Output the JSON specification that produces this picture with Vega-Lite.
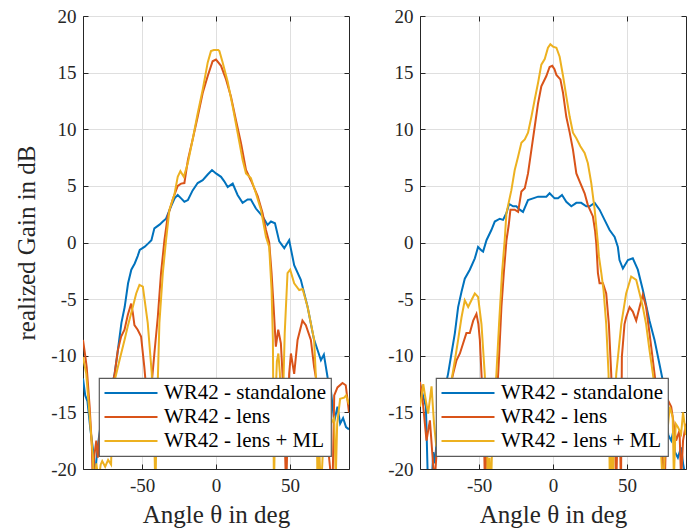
{
  "$schema": "https://vega.github.io/schema/vega-lite/v6.json",
  "background": "white",
  "padding": {"left": 14, "top": 6, "right": 5, "bottom": 5},
  "spacing": 34,
  "config": {
    "view": {"stroke": "#262626", "strokeWidth": 1},
    "font": "Liberation Serif",
    "axis": {
      "labelFont": "Liberation Serif", "labelFontSize": 19, "labelColor": "#262626",
      "titleFont": "Liberation Serif", "titleFontSize": 25, "titleFontWeight": "normal", "titleColor": "#262626",
      "gridColor": "#dfdfdf", "gridWidth": 1, "domainColor": "#262626", "tickColor": "#262626",
      "tickSize": -5, "labelPadding": 12, "labelExpr": "'' + datum.value"
    },
    "axisX": {"titlePadding": 7},
    "legend": {
      "orient": "none", "title": null, "fillColor": "white", "strokeColor": "#5a5a5a", "strokeWidth": 1.2,
      "padding": 4, "symbolType": "stroke", "symbolSize": 2809, "symbolStrokeWidth": 2.2,
      "labelFont": "Liberation Serif", "labelFontSize": 21, "labelColor": "#000000", "labelLimit": 400,
      "labelOffset": 5, "clipHeight": 22, "rowPadding": 2
    }
  },
  "datasets": {
    "left": [
      {"s":"WR42 - standalone","a":-90,"g":-12},{"s":"WR42 - standalone","a":-88.5,"g":-13.5},{"s":"WR42 - standalone","a":-87,"g":-14},{"s":"WR42 - standalone","a":-85,"g":-16.5},{"s":"WR42 - standalone","a":-83,"g":-18.5},{"s":"WR42 - standalone","a":-82,"g":-21},{"s":"WR42 - standalone","a":-81,"g":-19.3},{"s":"WR42 - standalone","a":-80,"g":-18},{"s":"WR42 - standalone","a":-78,"g":-16},{"s":"WR42 - standalone","a":-74,"g":-14.5},{"s":"WR42 - standalone","a":-71,"g":-13},{"s":"WR42 - standalone","a":-68.6,"g":-11.6},{"s":"WR42 - standalone","a":-66.4,"g":-9.5},{"s":"WR42 - standalone","a":-64,"g":-7.1},{"s":"WR42 - standalone","a":-61.8,"g":-5.7},{"s":"WR42 - standalone","a":-59.5,"g":-3.6},{"s":"WR42 - standalone","a":-57.3,"g":-2.4},{"s":"WR42 - standalone","a":-55,"g":-1.85},{"s":"WR42 - standalone","a":-53,"g":-1.2},{"s":"WR42 - standalone","a":-51.6,"g":-0.66},{"s":"WR42 - standalone","a":-48.2,"g":-0.37},{"s":"WR42 - standalone","a":-46,"g":-0.1},{"s":"WR42 - standalone","a":-43.7,"g":0.2},{"s":"WR42 - standalone","a":-41.7,"g":1.25},{"s":"WR42 - standalone","a":-38,"g":1.6},{"s":"WR42 - standalone","a":-36,"g":1.85},{"s":"WR42 - standalone","a":-33.8,"g":2.1},{"s":"WR42 - standalone","a":-30.4,"g":3.2},{"s":"WR42 - standalone","a":-28,"g":3.9},{"s":"WR42 - standalone","a":-25.9,"g":4.2},{"s":"WR42 - standalone","a":-23.6,"g":3.9},{"s":"WR42 - standalone","a":-21.4,"g":3.6},{"s":"WR42 - standalone","a":-19,"g":3.75},{"s":"WR42 - standalone","a":-15.8,"g":4.6},{"s":"WR42 - standalone","a":-12.4,"g":5.25},{"s":"WR42 - standalone","a":-9,"g":5.5},{"s":"WR42 - standalone","a":-5.6,"g":6.0},{"s":"WR42 - standalone","a":-2.7,"g":6.4},{"s":"WR42 - standalone","a":0,"g":6.1},{"s":"WR42 - standalone","a":3.4,"g":5.8},{"s":"WR42 - standalone","a":5.6,"g":5.4},{"s":"WR42 - standalone","a":7.9,"g":4.9},{"s":"WR42 - standalone","a":11.3,"g":5.2},{"s":"WR42 - standalone","a":14.6,"g":4.2},{"s":"WR42 - standalone","a":18,"g":3.5},{"s":"WR42 - standalone","a":21.4,"g":3.8},{"s":"WR42 - standalone","a":23.6,"g":3.8},{"s":"WR42 - standalone","a":27,"g":3.0},{"s":"WR42 - standalone","a":31.5,"g":2.3},{"s":"WR42 - standalone","a":34.9,"g":1.55},{"s":"WR42 - standalone","a":37.2,"g":1.85},{"s":"WR42 - standalone","a":39.9,"g":1.7},{"s":"WR42 - standalone","a":42.8,"g":0.1},{"s":"WR42 - standalone","a":46.2,"g":-0.5},{"s":"WR42 - standalone","a":49.5,"g":0.2},{"s":"WR42 - standalone","a":52.9,"g":-2.0},{"s":"WR42 - standalone","a":57.4,"g":-3.3},{"s":"WR42 - standalone","a":62,"g":-5.7},{"s":"WR42 - standalone","a":66.2,"g":-8.5},{"s":"WR42 - standalone","a":69,"g":-9.6},{"s":"WR42 - standalone","a":71,"g":-10.4},{"s":"WR42 - standalone","a":73,"g":-9.9},{"s":"WR42 - standalone","a":75.5,"g":-11.9},{"s":"WR42 - standalone","a":77.7,"g":-13},{"s":"WR42 - standalone","a":80,"g":-15.8},{"s":"WR42 - standalone","a":82.2,"g":-14.5},{"s":"WR42 - standalone","a":84,"g":-16},{"s":"WR42 - standalone","a":86,"g":-15.5},{"s":"WR42 - standalone","a":88,"g":-16.3},{"s":"WR42 - standalone","a":90,"g":-16.5},
      {"s":"WR42 - lens","a":-90,"g":-8.6},{"s":"WR42 - lens","a":-88.5,"g":-10},{"s":"WR42 - lens","a":-87.5,"g":-11},{"s":"WR42 - lens","a":-85.5,"g":-14.5},{"s":"WR42 - lens","a":-84,"g":-18},{"s":"WR42 - lens","a":-83.3,"g":-22},{"s":"WR42 - lens","a":-82.5,"g":-19},{"s":"WR42 - lens","a":-81,"g":-17.5},{"s":"WR42 - lens","a":-80,"g":-19},{"s":"WR42 - lens","a":-78,"g":-16},{"s":"WR42 - lens","a":-75,"g":-14},{"s":"WR42 - lens","a":-72,"g":-13.2},{"s":"WR42 - lens","a":-70,"g":-12.5},{"s":"WR42 - lens","a":-68.6,"g":-11.6},{"s":"WR42 - lens","a":-66.4,"g":-9.5},{"s":"WR42 - lens","a":-64.2,"g":-8.3},{"s":"WR42 - lens","a":-61.9,"g":-7.7},{"s":"WR42 - lens","a":-59.7,"g":-6.4},{"s":"WR42 - lens","a":-57.4,"g":-5.4},{"s":"WR42 - lens","a":-56.3,"g":-6.2},{"s":"WR42 - lens","a":-55.2,"g":-7.3},{"s":"WR42 - lens","a":-53,"g":-7.7},{"s":"WR42 - lens","a":-50.7,"g":-8.3},{"s":"WR42 - lens","a":-48.5,"g":-11},{"s":"WR42 - lens","a":-46.5,"g":-14},{"s":"WR42 - lens","a":-45,"g":-16},{"s":"WR42 - lens","a":-43.9,"g":-13},{"s":"WR42 - lens","a":-41.7,"g":-9.8},{"s":"WR42 - lens","a":-39.4,"g":-6.6},{"s":"WR42 - lens","a":-37.2,"g":-2.7},{"s":"WR42 - lens","a":-34.9,"g":0.2},{"s":"WR42 - lens","a":-32.7,"g":2.3},{"s":"WR42 - lens","a":-29.3,"g":3.8},{"s":"WR42 - lens","a":-25.9,"g":5.0},{"s":"WR42 - lens","a":-23.6,"g":5.2},{"s":"WR42 - lens","a":-21.4,"g":5.25},{"s":"WR42 - lens","a":-19,"g":7.3},{"s":"WR42 - lens","a":-15.8,"g":9.1},{"s":"WR42 - lens","a":-12.4,"g":11.1},{"s":"WR42 - lens","a":-9,"g":13.2},{"s":"WR42 - lens","a":-5.6,"g":14.7},{"s":"WR42 - lens","a":-2.3,"g":16.0},{"s":"WR42 - lens","a":0,"g":16.15},{"s":"WR42 - lens","a":3.4,"g":15.6},{"s":"WR42 - lens","a":6.8,"g":14.4},{"s":"WR42 - lens","a":10.1,"g":12.9},{"s":"WR42 - lens","a":13.5,"g":10.8},{"s":"WR42 - lens","a":16.9,"g":8.8},{"s":"WR42 - lens","a":20.3,"g":6.4},{"s":"WR42 - lens","a":23.6,"g":5.5},{"s":"WR42 - lens","a":28.2,"g":4.1},{"s":"WR42 - lens","a":31.5,"g":2.6},{"s":"WR42 - lens","a":33.8,"g":1.1},{"s":"WR42 - lens","a":36,"g":0.0},{"s":"WR42 - lens","a":37.6,"g":-2.7},{"s":"WR42 - lens","a":39,"g":-5.7},{"s":"WR42 - lens","a":40.5,"g":-9.2},{"s":"WR42 - lens","a":42.1,"g":-7.7},{"s":"WR42 - lens","a":43.9,"g":-8.9},{"s":"WR42 - lens","a":45,"g":-11.6},{"s":"WR42 - lens","a":46.2,"g":-16},{"s":"WR42 - lens","a":47.5,"g":-22},{"s":"WR42 - lens","a":48.6,"g":-16},{"s":"WR42 - lens","a":49.5,"g":-11.6},{"s":"WR42 - lens","a":50.7,"g":-9.8},{"s":"WR42 - lens","a":52.9,"g":-11.6},{"s":"WR42 - lens","a":55.2,"g":-8.6},{"s":"WR42 - lens","a":58.5,"g":-6.9},{"s":"WR42 - lens","a":60.8,"g":-7.3},{"s":"WR42 - lens","a":64.2,"g":-8.6},{"s":"WR42 - lens","a":66.4,"g":-11},{"s":"WR42 - lens","a":69,"g":-13},{"s":"WR42 - lens","a":72,"g":-15},{"s":"WR42 - lens","a":75,"g":-17},{"s":"WR42 - lens","a":78.8,"g":-22},{"s":"WR42 - lens","a":80,"g":-13.5},{"s":"WR42 - lens","a":82.2,"g":-12.8},{"s":"WR42 - lens","a":85.6,"g":-12.4},{"s":"WR42 - lens","a":87.8,"g":-12.6},{"s":"WR42 - lens","a":90,"g":-15},
      {"s":"WR42 - lens + ML","a":-90,"g":-10.1},{"s":"WR42 - lens + ML","a":-87.8,"g":-11.6},{"s":"WR42 - lens + ML","a":-85.5,"g":-15.3},{"s":"WR42 - lens + ML","a":-83.3,"g":-19},{"s":"WR42 - lens + ML","a":-82.5,"g":-22},{"s":"WR42 - lens + ML","a":-81,"g":-19.5},{"s":"WR42 - lens + ML","a":-79.5,"g":-21},{"s":"WR42 - lens + ML","a":-78,"g":-19.6},{"s":"WR42 - lens + ML","a":-77,"g":-19.3},{"s":"WR42 - lens + ML","a":-75,"g":-19.8},{"s":"WR42 - lens + ML","a":-73,"g":-19.2},{"s":"WR42 - lens + ML","a":-71,"g":-19.6},{"s":"WR42 - lens + ML","a":-70,"g":-14.5},{"s":"WR42 - lens + ML","a":-68.6,"g":-12.2},{"s":"WR42 - lens + ML","a":-65.3,"g":-10.4},{"s":"WR42 - lens + ML","a":-61.9,"g":-8.6},{"s":"WR42 - lens + ML","a":-59.7,"g":-7.4},{"s":"WR42 - lens + ML","a":-56.3,"g":-5.7},{"s":"WR42 - lens + ML","a":-54,"g":-4.5},{"s":"WR42 - lens + ML","a":-51.8,"g":-3.75},{"s":"WR42 - lens + ML","a":-49.5,"g":-3.9},{"s":"WR42 - lens + ML","a":-46.2,"g":-7.1},{"s":"WR42 - lens + ML","a":-43.5,"g":-11.5},{"s":"WR42 - lens + ML","a":-42,"g":-16},{"s":"WR42 - lens + ML","a":-41,"g":-22},{"s":"WR42 - lens + ML","a":-40.2,"g":-16},{"s":"WR42 - lens + ML","a":-38.3,"g":-7.1},{"s":"WR42 - lens + ML","a":-36,"g":-2.7},{"s":"WR42 - lens + ML","a":-33.8,"g":0.2},{"s":"WR42 - lens + ML","a":-31.5,"g":2.9},{"s":"WR42 - lens + ML","a":-28.2,"g":4.2},{"s":"WR42 - lens + ML","a":-25.9,"g":5.8},{"s":"WR42 - lens + ML","a":-24.1,"g":6.3},{"s":"WR42 - lens + ML","a":-21.8,"g":5.8},{"s":"WR42 - lens + ML","a":-19.1,"g":7.0},{"s":"WR42 - lens + ML","a":-15.8,"g":9.1},{"s":"WR42 - lens + ML","a":-12.4,"g":11.4},{"s":"WR42 - lens + ML","a":-9,"g":13.5},{"s":"WR42 - lens + ML","a":-5.6,"g":15.9},{"s":"WR42 - lens + ML","a":-3.4,"g":16.9},{"s":"WR42 - lens + ML","a":-1.5,"g":17.0},{"s":"WR42 - lens + ML","a":0,"g":17.0},{"s":"WR42 - lens + ML","a":1.5,"g":17.0},{"s":"WR42 - lens + ML","a":2.3,"g":16.9},{"s":"WR42 - lens + ML","a":4.5,"g":15.9},{"s":"WR42 - lens + ML","a":7.9,"g":14.2},{"s":"WR42 - lens + ML","a":11.3,"g":12.0},{"s":"WR42 - lens + ML","a":14.6,"g":9.7},{"s":"WR42 - lens + ML","a":18,"g":7.3},{"s":"WR42 - lens + ML","a":20.3,"g":6.1},{"s":"WR42 - lens + ML","a":23.6,"g":5.7},{"s":"WR42 - lens + ML","a":27,"g":4.35},{"s":"WR42 - lens + ML","a":30.4,"g":2.9},{"s":"WR42 - lens + ML","a":33.8,"g":0.5},{"s":"WR42 - lens + ML","a":36,"g":-0.4},{"s":"WR42 - lens + ML","a":37.6,"g":-4.2},{"s":"WR42 - lens + ML","a":38.5,"g":-8.6},{"s":"WR42 - lens + ML","a":39.2,"g":-22},{"s":"WR42 - lens + ML","a":40.2,"g":-14},{"s":"WR42 - lens + ML","a":41.2,"g":-10.5},{"s":"WR42 - lens + ML","a":42.2,"g":-9.8},{"s":"WR42 - lens + ML","a":43.2,"g":-11.5},{"s":"WR42 - lens + ML","a":44.5,"g":-16},{"s":"WR42 - lens + ML","a":45.5,"g":-13},{"s":"WR42 - lens + ML","a":46.5,"g":-8},{"s":"WR42 - lens + ML","a":48.4,"g":-2.7},{"s":"WR42 - lens + ML","a":50.2,"g":-2.4},{"s":"WR42 - lens + ML","a":52.9,"g":-3.6},{"s":"WR42 - lens + ML","a":56.3,"g":-4.2},{"s":"WR42 - lens + ML","a":58.6,"g":-4.1},{"s":"WR42 - lens + ML","a":62,"g":-5.7},{"s":"WR42 - lens + ML","a":66.4,"g":-8.6},{"s":"WR42 - lens + ML","a":68,"g":-13},{"s":"WR42 - lens + ML","a":68.7,"g":-22},{"s":"WR42 - lens + ML","a":69.8,"g":-18},{"s":"WR42 - lens + ML","a":71,"g":-22},{"s":"WR42 - lens + ML","a":72.5,"g":-18},{"s":"WR42 - lens + ML","a":75,"g":-17},{"s":"WR42 - lens + ML","a":77.7,"g":-16},{"s":"WR42 - lens + ML","a":80,"g":-15.5},{"s":"WR42 - lens + ML","a":81,"g":-21},{"s":"WR42 - lens + ML","a":82,"g":-16},{"s":"WR42 - lens + ML","a":84,"g":-13.8},{"s":"WR42 - lens + ML","a":86.7,"g":-13.7},{"s":"WR42 - lens + ML","a":88,"g":-13.5},{"s":"WR42 - lens + ML","a":90,"g":-14.3}
    ],
    "right": [
      {"s":"WR42 - standalone","a":-90,"g":-12.5},{"s":"WR42 - standalone","a":-88,"g":-13.5},{"s":"WR42 - standalone","a":-86,"g":-14.5},{"s":"WR42 - standalone","a":-84.5,"g":-22},{"s":"WR42 - standalone","a":-82,"g":-21},{"s":"WR42 - standalone","a":-81,"g":-18.5},{"s":"WR42 - standalone","a":-80,"g":-19.5},{"s":"WR42 - standalone","a":-79,"g":-18},{"s":"WR42 - standalone","a":-76,"g":-15},{"s":"WR42 - standalone","a":-73,"g":-12.8},{"s":"WR42 - standalone","a":-71,"g":-11.6},{"s":"WR42 - standalone","a":-68.7,"g":-9.8},{"s":"WR42 - standalone","a":-66.4,"g":-8.0},{"s":"WR42 - standalone","a":-64.2,"g":-5.7},{"s":"WR42 - standalone","a":-61.9,"g":-4.35},{"s":"WR42 - standalone","a":-59.7,"g":-3.2},{"s":"WR42 - standalone","a":-56.3,"g":-2.4},{"s":"WR42 - standalone","a":-52.9,"g":-1.4},{"s":"WR42 - standalone","a":-50.7,"g":-0.4},{"s":"WR42 - standalone","a":-48.4,"g":-0.7},{"s":"WR42 - standalone","a":-47.3,"g":-0.8},{"s":"WR42 - standalone","a":-45,"g":0.2},{"s":"WR42 - standalone","a":-41.7,"g":1.1},{"s":"WR42 - standalone","a":-39.4,"g":1.85},{"s":"WR42 - standalone","a":-36,"g":2.1},{"s":"WR42 - standalone","a":-33.8,"g":2.0},{"s":"WR42 - standalone","a":-31.5,"g":2.6},{"s":"WR42 - standalone","a":-29.7,"g":3.4},{"s":"WR42 - standalone","a":-27,"g":3.2},{"s":"WR42 - standalone","a":-24.8,"g":3.2},{"s":"WR42 - standalone","a":-22.5,"g":2.9},{"s":"WR42 - standalone","a":-20.3,"g":2.7},{"s":"WR42 - standalone","a":-16.9,"g":3.75},{"s":"WR42 - standalone","a":-13.5,"g":3.9},{"s":"WR42 - standalone","a":-10.1,"g":4.05},{"s":"WR42 - standalone","a":-6.8,"g":4.05},{"s":"WR42 - standalone","a":-4.5,"g":4.05},{"s":"WR42 - standalone","a":-2.3,"g":4.35},{"s":"WR42 - standalone","a":1.1,"g":3.9},{"s":"WR42 - standalone","a":3.4,"g":3.9},{"s":"WR42 - standalone","a":6.1,"g":4.2},{"s":"WR42 - standalone","a":9,"g":3.6},{"s":"WR42 - standalone","a":12.4,"g":3.2},{"s":"WR42 - standalone","a":15.8,"g":3.5},{"s":"WR42 - standalone","a":19.1,"g":3.5},{"s":"WR42 - standalone","a":22.5,"g":3.2},{"s":"WR42 - standalone","a":24.8,"g":3.2},{"s":"WR42 - standalone","a":28.2,"g":3.5},{"s":"WR42 - standalone","a":31.5,"g":2.9},{"s":"WR42 - standalone","a":34.9,"g":2.0},{"s":"WR42 - standalone","a":38.3,"g":1.1},{"s":"WR42 - standalone","a":41.7,"g":0.5},{"s":"WR42 - standalone","a":43.9,"g":-0.4},{"s":"WR42 - standalone","a":45,"g":-1.55},{"s":"WR42 - standalone","a":47.3,"g":-2.3},{"s":"WR42 - standalone","a":50.7,"g":-1.55},{"s":"WR42 - standalone","a":54,"g":-1.4},{"s":"WR42 - standalone","a":57.4,"g":-2.4},{"s":"WR42 - standalone","a":60.8,"g":-4.2},{"s":"WR42 - standalone","a":65.3,"g":-6.9},{"s":"WR42 - standalone","a":68.7,"g":-8.6},{"s":"WR42 - standalone","a":72,"g":-10.7},{"s":"WR42 - standalone","a":74.3,"g":-12.2},{"s":"WR42 - standalone","a":76,"g":-14},{"s":"WR42 - standalone","a":78,"g":-17},{"s":"WR42 - standalone","a":80,"g":-17.5},{"s":"WR42 - standalone","a":81.5,"g":-16.6},{"s":"WR42 - standalone","a":82.5,"g":-18.5},{"s":"WR42 - standalone","a":84.5,"g":-19},{"s":"WR42 - standalone","a":86.7,"g":-18.1},{"s":"WR42 - standalone","a":88,"g":-19.5},{"s":"WR42 - standalone","a":90,"g":-21},
      {"s":"WR42 - lens","a":-90,"g":-12.3},{"s":"WR42 - lens","a":-88,"g":-14.2},{"s":"WR42 - lens","a":-85.6,"g":-17.5},{"s":"WR42 - lens","a":-83.3,"g":-15.7},{"s":"WR42 - lens","a":-81,"g":-19.8},{"s":"WR42 - lens","a":-80,"g":-21},{"s":"WR42 - lens","a":-78,"g":-17},{"s":"WR42 - lens","a":-74,"g":-14.5},{"s":"WR42 - lens","a":-70,"g":-13},{"s":"WR42 - lens","a":-67.6,"g":-11.6},{"s":"WR42 - lens","a":-65.3,"g":-10.4},{"s":"WR42 - lens","a":-63,"g":-9.8},{"s":"WR42 - lens","a":-60.8,"g":-8.9},{"s":"WR42 - lens","a":-58.6,"g":-8.0},{"s":"WR42 - lens","a":-56.3,"g":-8.0},{"s":"WR42 - lens","a":-54,"g":-6.9},{"s":"WR42 - lens","a":-51.8,"g":-6.3},{"s":"WR42 - lens","a":-50.5,"g":-7.2},{"s":"WR42 - lens","a":-49.5,"g":-8.6},{"s":"WR42 - lens","a":-48.4,"g":-11.6},{"s":"WR42 - lens","a":-47,"g":-15},{"s":"WR42 - lens","a":-46,"g":-22},{"s":"WR42 - lens","a":-45,"g":-18},{"s":"WR42 - lens","a":-42,"g":-15},{"s":"WR42 - lens","a":-40,"g":-16},{"s":"WR42 - lens","a":-39.2,"g":-17},{"s":"WR42 - lens","a":-38.3,"g":-14.5},{"s":"WR42 - lens","a":-36.5,"g":-10.1},{"s":"WR42 - lens","a":-34.9,"g":-5.7},{"s":"WR42 - lens","a":-33.3,"g":-2.7},{"s":"WR42 - lens","a":-31.5,"g":0.2},{"s":"WR42 - lens","a":-30,"g":1.5},{"s":"WR42 - lens","a":-28.8,"g":2.9},{"s":"WR42 - lens","a":-25.9,"g":2.9},{"s":"WR42 - lens","a":-23.6,"g":2.7},{"s":"WR42 - lens","a":-21.4,"g":4.5},{"s":"WR42 - lens","a":-19.1,"g":4.8},{"s":"WR42 - lens","a":-16.9,"g":6.1},{"s":"WR42 - lens","a":-14.6,"g":8.2},{"s":"WR42 - lens","a":-12.4,"g":10.2},{"s":"WR42 - lens","a":-10.1,"g":12.3},{"s":"WR42 - lens","a":-7.9,"g":13.8},{"s":"WR42 - lens","a":-4.5,"g":14.7},{"s":"WR42 - lens","a":-2.3,"g":15.5},{"s":"WR42 - lens","a":-0.5,"g":15.6},{"s":"WR42 - lens","a":1,"g":15.3},{"s":"WR42 - lens","a":2.3,"g":14.8},{"s":"WR42 - lens","a":5,"g":14.4},{"s":"WR42 - lens","a":6.8,"g":13.2},{"s":"WR42 - lens","a":9,"g":11.1},{"s":"WR42 - lens","a":11.3,"g":9.7},{"s":"WR42 - lens","a":13.5,"g":8.2},{"s":"WR42 - lens","a":15.8,"g":6.1},{"s":"WR42 - lens","a":18,"g":5.4},{"s":"WR42 - lens","a":21.4,"g":4.35},{"s":"WR42 - lens","a":23.6,"g":3.3},{"s":"WR42 - lens","a":27,"g":2.3},{"s":"WR42 - lens","a":28.5,"g":1.0},{"s":"WR42 - lens","a":29.3,"g":-0.1},{"s":"WR42 - lens","a":30.4,"g":-2.7},{"s":"WR42 - lens","a":31.5,"g":-3.6},{"s":"WR42 - lens","a":33.8,"g":-3.6},{"s":"WR42 - lens","a":36,"g":-4.5},{"s":"WR42 - lens","a":37.8,"g":-7.2},{"s":"WR42 - lens","a":39.4,"g":-11.6},{"s":"WR42 - lens","a":40.5,"g":-16},{"s":"WR42 - lens","a":41.5,"g":-14},{"s":"WR42 - lens","a":42.7,"g":-22},{"s":"WR42 - lens","a":44,"g":-15},{"s":"WR42 - lens","a":45,"g":-14.5},{"s":"WR42 - lens","a":46,"g":-22},{"s":"WR42 - lens","a":46.6,"g":-10.1},{"s":"WR42 - lens","a":48.4,"g":-7.2},{"s":"WR42 - lens","a":49.5,"g":-6.6},{"s":"WR42 - lens","a":51.8,"g":-5.7},{"s":"WR42 - lens","a":54,"g":-6.1},{"s":"WR42 - lens","a":56.3,"g":-6.9},{"s":"WR42 - lens","a":58.6,"g":-5.7},{"s":"WR42 - lens","a":60.8,"g":-4.6},{"s":"WR42 - lens","a":63,"g":-5.7},{"s":"WR42 - lens","a":65.3,"g":-8.0},{"s":"WR42 - lens","a":67.6,"g":-10.4},{"s":"WR42 - lens","a":70,"g":-13},{"s":"WR42 - lens","a":73,"g":-16},{"s":"WR42 - lens","a":75.5,"g":-22},{"s":"WR42 - lens","a":76.5,"g":-17},{"s":"WR42 - lens","a":77.7,"g":-13.9},{"s":"WR42 - lens","a":80,"g":-14.5},{"s":"WR42 - lens","a":83.3,"g":-17.5},{"s":"WR42 - lens","a":85.6,"g":-16.6},{"s":"WR42 - lens","a":86.7,"g":-21},{"s":"WR42 - lens","a":88,"g":-17.5},{"s":"WR42 - lens","a":90,"g":-16},
      {"s":"WR42 - lens + ML","a":-90,"g":-14.5},{"s":"WR42 - lens + ML","a":-87.8,"g":-12.5},{"s":"WR42 - lens + ML","a":-86,"g":-14},{"s":"WR42 - lens + ML","a":-84.5,"g":-15.1},{"s":"WR42 - lens + ML","a":-82.2,"g":-12.7},{"s":"WR42 - lens + ML","a":-80.5,"g":-16},{"s":"WR42 - lens + ML","a":-79,"g":-18},{"s":"WR42 - lens + ML","a":-75,"g":-16},{"s":"WR42 - lens + ML","a":-72,"g":-14.5},{"s":"WR42 - lens + ML","a":-70,"g":-13.5},{"s":"WR42 - lens + ML","a":-68.7,"g":-12.2},{"s":"WR42 - lens + ML","a":-66.4,"g":-10.4},{"s":"WR42 - lens + ML","a":-64.2,"g":-8.6},{"s":"WR42 - lens + ML","a":-61.9,"g":-6.6},{"s":"WR42 - lens + ML","a":-59.7,"g":-5.1},{"s":"WR42 - lens + ML","a":-57.4,"g":-5.7},{"s":"WR42 - lens + ML","a":-55.2,"g":-5.1},{"s":"WR42 - lens + ML","a":-52.9,"g":-4.5},{"s":"WR42 - lens + ML","a":-50.7,"g":-4.8},{"s":"WR42 - lens + ML","a":-48.4,"g":-7.2},{"s":"WR42 - lens + ML","a":-46.2,"g":-11.6},{"s":"WR42 - lens + ML","a":-45,"g":-15},{"s":"WR42 - lens + ML","a":-44,"g":-22},{"s":"WR42 - lens + ML","a":-43,"g":-19},{"s":"WR42 - lens + ML","a":-42,"g":-22},{"s":"WR42 - lens + ML","a":-41,"g":-17},{"s":"WR42 - lens + ML","a":-39.5,"g":-14},{"s":"WR42 - lens + ML","a":-38.3,"g":-11.6},{"s":"WR42 - lens + ML","a":-36.5,"g":-7.2},{"s":"WR42 - lens + ML","a":-34.5,"g":-2.7},{"s":"WR42 - lens + ML","a":-32.7,"g":0.2},{"s":"WR42 - lens + ML","a":-31.5,"g":2.6},{"s":"WR42 - lens + ML","a":-28.2,"g":4.6},{"s":"WR42 - lens + ML","a":-25.9,"g":6.4},{"s":"WR42 - lens + ML","a":-23.6,"g":7.6},{"s":"WR42 - lens + ML","a":-21.4,"g":8.8},{"s":"WR42 - lens + ML","a":-19.1,"g":9.1},{"s":"WR42 - lens + ML","a":-16.9,"g":9.7},{"s":"WR42 - lens + ML","a":-14.6,"g":11.1},{"s":"WR42 - lens + ML","a":-12.4,"g":12.6},{"s":"WR42 - lens + ML","a":-10.1,"g":14.1},{"s":"WR42 - lens + ML","a":-7.9,"g":15.7},{"s":"WR42 - lens + ML","a":-5.6,"g":16.2},{"s":"WR42 - lens + ML","a":-3.4,"g":17.2},{"s":"WR42 - lens + ML","a":-1.8,"g":17.5},{"s":"WR42 - lens + ML","a":0,"g":17.3},{"s":"WR42 - lens + ML","a":2.3,"g":17.2},{"s":"WR42 - lens + ML","a":4.5,"g":16.4},{"s":"WR42 - lens + ML","a":6.8,"g":14.7},{"s":"WR42 - lens + ML","a":9,"g":12.9},{"s":"WR42 - lens + ML","a":11.3,"g":11.1},{"s":"WR42 - lens + ML","a":13.5,"g":9.7},{"s":"WR42 - lens + ML","a":15.8,"g":9.2},{"s":"WR42 - lens + ML","a":18.5,"g":8.5},{"s":"WR42 - lens + ML","a":21.4,"g":7.9},{"s":"WR42 - lens + ML","a":23.6,"g":7.0},{"s":"WR42 - lens + ML","a":25.9,"g":5.25},{"s":"WR42 - lens + ML","a":28.2,"g":2.9},{"s":"WR42 - lens + ML","a":30.4,"g":-0.1},{"s":"WR42 - lens + ML","a":31.1,"g":-1.25},{"s":"WR42 - lens + ML","a":32.7,"g":-2.7},{"s":"WR42 - lens + ML","a":34.2,"g":-4.2},{"s":"WR42 - lens + ML","a":36,"g":-7.2},{"s":"WR42 - lens + ML","a":37.6,"g":-11.6},{"s":"WR42 - lens + ML","a":38.5,"g":-22},{"s":"WR42 - lens + ML","a":39.5,"g":-16},{"s":"WR42 - lens + ML","a":40.5,"g":-22},{"s":"WR42 - lens + ML","a":41.5,"g":-15},{"s":"WR42 - lens + ML","a":42.8,"g":-11.6},{"s":"WR42 - lens + ML","a":46.2,"g":-7.2},{"s":"WR42 - lens + ML","a":49.5,"g":-4.5},{"s":"WR42 - lens + ML","a":52.9,"g":-3.0},{"s":"WR42 - lens + ML","a":56.3,"g":-3.3},{"s":"WR42 - lens + ML","a":58.6,"g":-4.5},{"s":"WR42 - lens + ML","a":60.8,"g":-5.7},{"s":"WR42 - lens + ML","a":63,"g":-7.2},{"s":"WR42 - lens + ML","a":65.3,"g":-9.5},{"s":"WR42 - lens + ML","a":67.6,"g":-11.6},{"s":"WR42 - lens + ML","a":70,"g":-14},{"s":"WR42 - lens + ML","a":72.5,"g":-17},{"s":"WR42 - lens + ML","a":74.5,"g":-22},{"s":"WR42 - lens + ML","a":75.5,"g":-19},{"s":"WR42 - lens + ML","a":77.7,"g":-16.3},{"s":"WR42 - lens + ML","a":79,"g":-14.5},{"s":"WR42 - lens + ML","a":81,"g":-15.4},{"s":"WR42 - lens + ML","a":81.8,"g":-21},{"s":"WR42 - lens + ML","a":83,"g":-16},{"s":"WR42 - lens + ML","a":84.5,"g":-16.3},{"s":"WR42 - lens + ML","a":86.7,"g":-16.9},{"s":"WR42 - lens + ML","a":88,"g":-15},{"s":"WR42 - lens + ML","a":90,"g":-17}
    ]
  },
  "resolve": {"legend": {"color": "independent"}},
  "hconcat": [
    {
      "width": 266, "height": 453,
      "data": {"name": "left"},
      "layer": [
        {
          "mark": {"type": "line", "strokeWidth": 2, "clip": true},
          "encoding": {
            "x": {"field": "a", "type": "quantitative", "scale": {"domain": [-90, 90], "nice": false, "zero": false},
                  "axis": {"values": [-50, 0, 50], "title": "Angle θ in deg", "grid": true}},
            "y": {"field": "g", "type": "quantitative", "scale": {"domain": [-20, 20], "nice": false, "zero": false},
                  "axis": {"values": [-20, -15, -10, -5, 0, 5, 10, 15, 20], "title": "realized Gain in dB", "grid": true, "titlePadding": 11}},
            "color": {"field": "s", "type": "nominal",
                      "scale": {"domain": ["WR42 - standalone", "WR42 - lens", "WR42 - lens + ML"], "range": ["#0072BD", "#D95319", "#EDB120"]},
                      "legend": {"legendX": 16, "legendY": 362}}
          }
        },
        {
          "mark": {"type": "point", "opacity": 0},
          "encoding": {
            "x": {"field": "a", "type": "quantitative", "axis": {"orient": "top", "values": [-50, 0, 50], "labels": false, "title": null, "grid": false, "domain": false}},
            "y": {"field": "g", "type": "quantitative", "axis": {"orient": "right", "values": [-20, -15, -10, -5, 0, 5, 10, 15, 20], "labels": false, "title": null, "grid": false, "domain": false}}
          }
        }
      ],
      "resolve": {"axis": {"x": "independent", "y": "independent"}}
    },
    {
      "width": 266, "height": 453,
      "data": {"name": "right"},
      "layer": [
        {
          "mark": {"type": "line", "strokeWidth": 2, "clip": true},
          "encoding": {
            "x": {"field": "a", "type": "quantitative", "scale": {"domain": [-90, 90], "nice": false, "zero": false},
                  "axis": {"values": [-50, 0, 50], "title": "Angle θ in deg", "grid": true}},
            "y": {"field": "g", "type": "quantitative", "scale": {"domain": [-20, 20], "nice": false, "zero": false},
                  "axis": {"values": [-20, -15, -10, -5, 0, 5, 10, 15, 20], "title": null, "grid": true}},
            "color": {"field": "s", "type": "nominal",
                      "scale": {"domain": ["WR42 - standalone", "WR42 - lens", "WR42 - lens + ML"], "range": ["#0072BD", "#D95319", "#EDB120"]},
                      "legend": {"legendX": 16, "legendY": 362}}
          }
        },
        {
          "mark": {"type": "point", "opacity": 0},
          "encoding": {
            "x": {"field": "a", "type": "quantitative", "axis": {"orient": "top", "values": [-50, 0, 50], "labels": false, "title": null, "grid": false, "domain": false}},
            "y": {"field": "g", "type": "quantitative", "axis": {"orient": "right", "values": [-20, -15, -10, -5, 0, 5, 10, 15, 20], "labels": false, "title": null, "grid": false, "domain": false}}
          }
        }
      ],
      "resolve": {"axis": {"x": "independent", "y": "independent"}}
    }
  ]
}
